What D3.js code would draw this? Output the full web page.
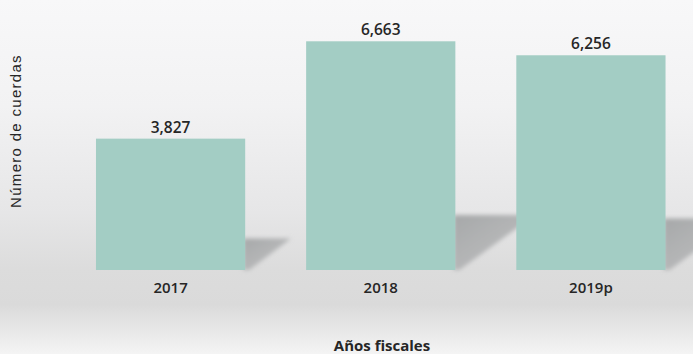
<!DOCTYPE html>
<html>
<head>
<meta charset="utf-8">
<script src="https://cdn.jsdelivr.net/npm/d3@7"></script>
<style>
    html, body { margin: 0; padding: 0; background: #fff; }
    #chart { width: 693px; height: 354px; }
</style>
</head>
<body>
<div id="chart"></div>
<script>
// data
const years = ['2017', '2018', '2019p'];
const cuerdas = [3827, 6663, 6256];

const yTitle = 'Número de cuerdas';
const xTitle = 'Años fiscales';

document.addEventListener("DOMContentLoaded", function() {
    const config = {
        width: 693,
        height: 354,
        barColor: '#a3cdc4',
        textColor: '#262626',
        baseline: 270,
        top: 41.3
    };

    const svg = d3.select('#chart').append('svg')
        .attr('width', config.width)
        .attr('height', config.height);

    const defs = svg.append('defs');

    // background gradient, white on top and gray near the floor
    const bg = defs.append('linearGradient')
        .attr('id', 'bg')
        .attr('x1', 0).attr('y1', 0).attr('x2', 0).attr('y2', 1);
    [[0, '#f8f8f9'], [0.3, '#f2f2f3'], [0.6, '#e6e6e7'], [0.76, '#dcdcdc'], [0.86, '#dadada'], [1, '#f4f4f4']]
        .forEach(s => bg.append('stop').attr('offset', s[0]).attr('stop-color', s[1]));

    // shadow gradient
    const sh = defs.append('linearGradient')
        .attr('id', 'shadow')
        .attr('x1', 0).attr('y1', 0).attr('x2', 1).attr('y2', 1);
    sh.append('stop').attr('offset', 0).attr('stop-color', '#a6a8a9');
    sh.append('stop').attr('offset', 0.55).attr('stop-color', '#b6b7b8');
    sh.append('stop').attr('offset', 1).attr('stop-color', '#d6d6d7');

    defs.append('filter').attr('id', 'blur')
        .attr('x', '-20%').attr('y', '-20%').attr('width', '140%').attr('height', '140%')
        .append('feGaussianBlur').attr('stdDeviation', 2);

    svg.append('rect')
        .attr('width', config.width)
        .attr('height', config.height)
        .attr('fill', 'url(#bg)');

    // scales
    const x = d3.scaleBand()
        .domain(years)
        .range([65.5, 696])
        .paddingInner(0.29)
        .paddingOuter(0.145);

    const y = d3.scaleLinear()
        .domain([0, d3.max(cuerdas)])
        .range([config.baseline, config.top]);

    const data = years.map((d, i) => ({ year: d, value: cuerdas[i] }));

    // cast shadows behind the bars
    const shadows = svg.append('g').classed('shadows', true);
    shadows.selectAll('path')
        .data(data)
        .enter()
        .append('path')
        .attr('d', d => {
            const r = x(d.year) + x.bandwidth();
            const h = (config.baseline - y(d.value)) * 0.24;
            const t = config.baseline - h;
            return `M${r - 2},${config.baseline}L${r - 2},${t}L${r + h * 1.45},${t}L${r + 4},${config.baseline}Z`;
        })
        .attr('fill', 'url(#shadow)')
        .attr('filter', 'url(#blur)');

    // bars
    svg.append('g').classed('bars', true)
        .selectAll('rect')
        .data(data)
        .enter()
        .append('rect')
        .attr('x', d => x(d.year))
        .attr('y', d => y(d.value))
        .attr('width', x.bandwidth())
        .attr('height', d => config.baseline - y(d.value))
        .attr('fill', config.barColor);

    // value labels
    svg.append('g').classed('values', true)
        .selectAll('text')
        .data(data)
        .enter()
        .append('text')
        .attr('x', d => x(d.year) + x.bandwidth() / 2)
        .attr('y', d => y(d.value) - 6)
        .attr('text-anchor', 'middle')
        .attr('font-family', 'Open Sans, sans-serif')
        .attr('font-weight', 600)
        .attr('font-size', '15.5px')
        .attr('fill', config.textColor)
        .text(d => d3.format(',')(d.value));

    // x axis, labels only
    const xAxis = svg.append('g')
        .attr('transform', `translate(0,${config.baseline})`)
        .call(d3.axisBottom(x).tickSize(0).tickPadding(12));
    xAxis.select('.domain').remove();
    xAxis.selectAll('text')
        .attr('font-family', 'Open Sans, sans-serif')
        .attr('font-weight', 600)
        .attr('font-size', '15px')
        .attr('fill', config.textColor);

    // axis titles
    svg.append('text')
        .attr('x', 382)
        .attr('y', 351)
        .attr('text-anchor', 'middle')
        .attr('font-family', 'Open Sans, sans-serif')
        .attr('font-weight', 'bold')
        .attr('font-size', '15px')
        .attr('fill', config.textColor)
        .text(xTitle);

    svg.append('text')
        .attr('transform', 'translate(21,131) rotate(-90)')
        .attr('text-anchor', 'middle')
        .attr('font-family', 'Liberation Sans, Arial, sans-serif')
        .attr('font-size', '15px')
        .attr('letter-spacing', '1.3px')
        .attr('fill', config.textColor)
        .text(yTitle);
});
</script>
</body>
</html>
